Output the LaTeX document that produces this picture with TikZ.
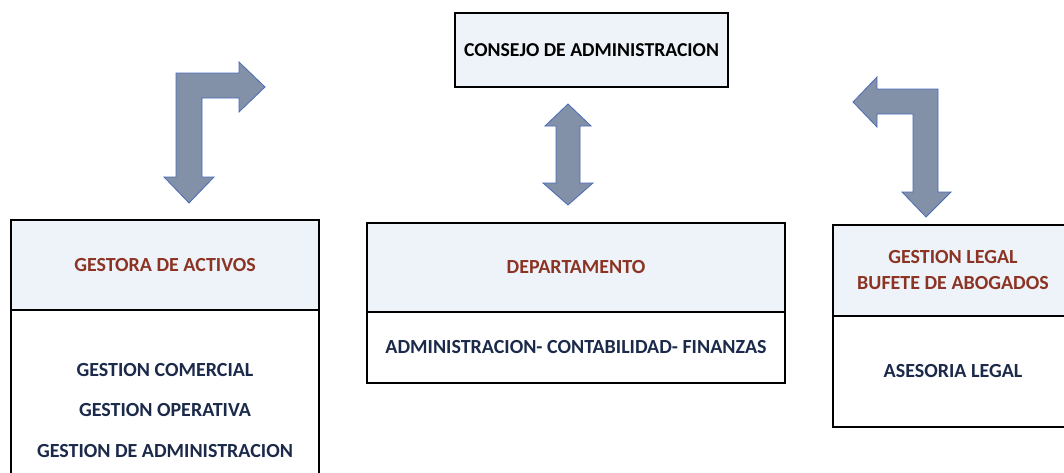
\documentclass[tikz,border=0pt]{standalone}
\usepackage{fontspec}
\setmainfont{Carlito}
\definecolor{headfill}{HTML}{EEF3FA}
\definecolor{headtext}{HTML}{8C3424}
\definecolor{bodytext}{HTML}{1B2A4A}
\definecolor{arrowfill}{HTML}{8290A8}
\definecolor{arrowline}{HTML}{4A6CB8}
\begin{document}
\begin{tikzpicture}[
    x=1pt, y=-1pt,
    headnode/.style={rectangle, draw=black, line width=1.6pt, fill=headfill, text=headtext,
      font=\fontsize{20}{26}\selectfont\bfseries, align=center, inner sep=0pt},
    bodynode/.style={rectangle, draw=black, line width=1.6pt, fill=white, text=bodytext,
      font=\fontsize{20}{40.5}\selectfont\bfseries, align=center, inner sep=0pt},
    topnode/.style={rectangle, draw=black, line width=1.6pt, fill=headfill, text=black,
      font=\fontsize{19.7}{24}\selectfont\bfseries, inner sep=0pt},
    blockarrow/.style={fill=arrowfill, draw=arrowline, line width=0.8pt, line join=miter}
  ]
  \clip (0,0) rectangle (1064,472);
  \fill[white] (0,0) rectangle (1064,472);

  %Nodes
  \node[topnode, minimum width=273pt, minimum height=74pt] at (591.5,50) (consejo) {CONSEJO DE ADMINISTRACION};

  \node[headnode, minimum width=308pt, minimum height=90pt] at (165,265) (gestora) {GESTORA DE ACTIVOS};
  \node[bodynode, minimum width=308pt, minimum height=200pt] at (165,410) (gestorab)
    {GESTION COMERCIAL\\GESTION OPERATIVA\\GESTION DE ADMINISTRACION};

  \node[headnode, minimum width=418pt, minimum height=89pt] at (576,267.5) (depto) {DEPARTAMENTO};
  \node[bodynode, minimum width=418pt, minimum height=71pt] at (576,347.5) (deptob)
    {ADMINISTRACION- CONTABILIDAD- FINANZAS};

  \node[headnode, minimum width=240pt, minimum height=91pt] at (953,270.5) (legal)
    {GESTION LEGAL\\BUFETE DE ABOGADOS};
  \node[bodynode, minimum width=240pt, minimum height=111pt] at (953,371.5) (legalb) {ASESORIA LEGAL};

  %Arrows
  \draw[blockarrow] (189,203) -- (214,177) -- (202,177) -- (202,98) -- (239,98) -- (239,112)
    -- (265,87) -- (239,62) -- (239,73) -- (176,73) -- (176,177) -- (164,177) -- cycle;
  \draw[blockarrow] (853,102) -- (877,77) -- (877,89) -- (938,89) -- (938,192) -- (951,192)
    -- (926,217) -- (902,192) -- (913,192) -- (913,114) -- (877,114) -- (877,127) -- cycle;
  \draw[blockarrow] (568,104) -- (591,126) -- (580,126) -- (580,183) -- (593,183) -- (568,205)
    -- (543,183) -- (556,183) -- (556,126) -- (545,126) -- cycle;

\end{tikzpicture}
\end{document}
